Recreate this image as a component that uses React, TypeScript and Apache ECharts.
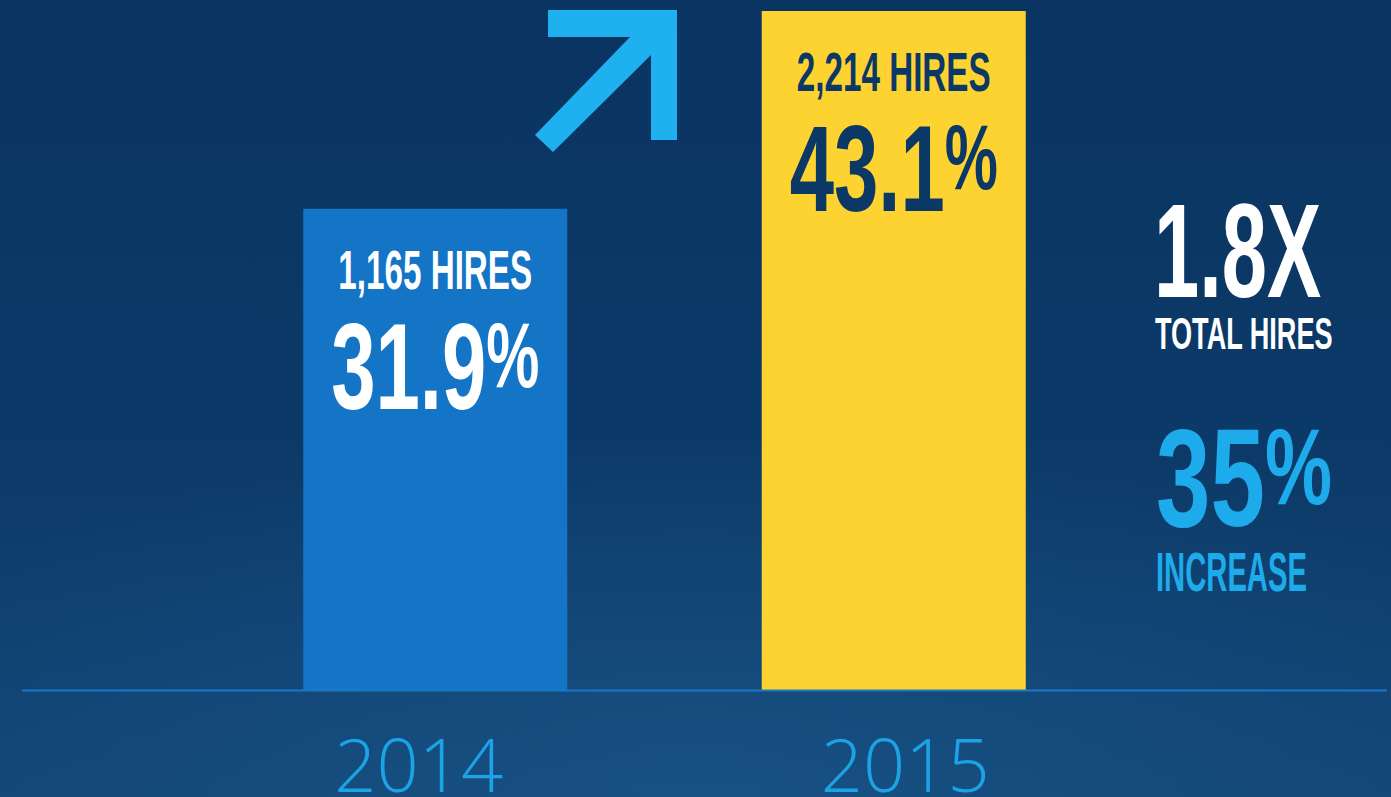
import React, { useEffect, useRef } from 'react';
import * as echarts from 'echarts';

// ---------- data ----------
const years = ['2014', '2015'];
const sharePct = [31.9, 43.1];
const hires = [1165, 2214];
const totalHiresMultiple = 1.8;
const shareIncreasePct = 35;

// ---------- styles ----------
const BAR_COLORS = ['#1474c6', '#fdd331'];
const LABEL_COLORS = ['#ffffff', '#0c3866'];
const ACCENT = '#1eabec';
const YEAR_COLOR = '#1ba3e6';
const BASELINE = '#1a78c8';
const CONDENSED = '"Liberation Sans Narrow", "Liberation Sans", Arial, sans-serif';
const CAP = 0.716;

let measureCtx: CanvasRenderingContext2D | null = null;
function textWidth(text: string, size: number) {
  if (!measureCtx) measureCtx = document.createElement('canvas').getContext('2d');
  measureCtx!.font = `bold ${size}px ${CONDENSED}`;
  return measureCtx!.measureText(text).width;
}

type CondOpts = {
  main: string;
  suffix?: string;
  capH: number;
  suffixRatio?: number;
  width: number;
  fill: string;
  anchor: 'left' | 'center';
  x: number;
  y: number;
};

function condensedGroup(o: CondOpts): any {
  const fs = o.capH / CAP;
  const fsS = fs * (o.suffixRatio ?? 0.75);
  const wMain = textWidth(o.main, fs);
  const wSuf = o.suffix ? textWidth(o.suffix, fsS) : 0;
  const W = wMain + wSuf;
  const s = o.width / W;
  const x0 = o.anchor === 'left' ? 0 : -W / 2;
  const children: any[] = [
    {
      type: 'text',
      x: x0,
      y: 0,
      style: {
        text: o.main,
        fill: o.fill,
        fontSize: fs,
        fontFamily: CONDENSED,
        fontWeight: 'bold',
        align: 'left',
        verticalAlign: 'middle',
      },
    },
  ];
  if (o.suffix) {
    children.push({
      type: 'text',
      x: x0 + wMain,
      y: -(CAP / 2) * (fs - fsS),
      style: {
        text: o.suffix,
        fill: o.fill,
        fontSize: fsS,
        fontFamily: CONDENSED,
        fontWeight: 'bold',
        align: 'left',
        verticalAlign: 'middle',
      },
    });
  }
  return { type: 'group', x: o.x, y: o.y, scaleX: s, children };
}

export default function App() {
  const ref = useRef<HTMLDivElement>(null);

  useEffect(() => {
    document.body.style.margin = '0';
    if (!ref.current) return;
    const chart = echarts.init(ref.current, undefined, { renderer: 'svg' });

    const option: any = {
      animation: false,
      grid: { left: 206, right: 268, top: 11, bottom: 106, outerBoundsMode: 'none', containLabel: false },
      xAxis: {
        type: 'category',
        data: [
          { value: years[0], textStyle: { padding: [0, 33, 0, 0] } },
          { value: years[1], textStyle: { padding: [0, 0, 0, 23] } },
        ],
        axisLine: { show: false },
        axisTick: { show: false },
        axisLabel: {
          color: YEAR_COLOR,
          fontSize: 74,
          lineHeight: 60,
          fontFamily: '"Open Sans", Lato, sans-serif',
          fontWeight: 300,
          margin: 42,
        },
      },
      yAxis: { type: 'value', min: 4.6, max: 43.1, show: false },
      series: [
        {
          type: 'bar',
          barWidth: 264,
          data: sharePct.map((v, i) => ({ value: v, itemStyle: { color: BAR_COLORS[i] } })),
          silent: true,
          z: 2,
        },
        {
          type: 'custom',
          z: 5,
          silent: true,
          data: sharePct.map((v, i) => [i, v]),
          encode: { x: 0, y: 1 },
          renderItem: (params: any, api: any) => {
            const i = params.dataIndex;
            const [cx, top] = api.coord([api.value(0), api.value(1)]);
            const fill = LABEL_COLORS[i];
            return {
              type: 'group',
              children: [
                condensedGroup({
                  main: `${hires[i].toLocaleString('en-US')} HIRES`,
                  capH: 40,
                  width: 194,
                  fill,
                  anchor: 'center',
                  x: cx,
                  y: top + 61,
                }),
                condensedGroup({
                  main: sharePct[i].toFixed(1),
                  suffix: '%',
                  capH: 88,
                  suffixRatio: 0.75,
                  width: 208,
                  fill,
                  anchor: 'center',
                  x: cx,
                  y: top + 157,
                }),
              ],
            };
          },
        },
      ],
      graphic: [
        {
          type: 'line',
          z: 10,
          silent: true,
          shape: { x1: 22, y1: 690.5, x2: 1387, y2: 690.5 },
          style: { stroke: BASELINE, lineWidth: 2 },
        },
        {
          type: 'polygon',
          silent: true,
          shape: {
            points: [
              [548, 10],
              [677, 10],
              [677, 140],
              [651, 140],
              [651, 55],
              [553, 152],
              [535, 135],
              [630, 37],
              [548, 37],
            ],
          },
          style: { fill: '#1fb0f0' },
        },
        condensedGroup({
          main: `${totalHiresMultiple}X`,
          capH: 96,
          width: 167,
          fill: '#ffffff',
          anchor: 'left',
          x: 1154,
          y: 250,
        }),
        condensedGroup({
          main: 'TOTAL HIRES',
          capH: 32,
          width: 178,
          fill: '#ffffff',
          anchor: 'left',
          x: 1155,
          y: 334,
        }),
        condensedGroup({
          main: `${shareIncreasePct}`,
          suffix: '%',
          capH: 100,
          suffixRatio: 0.77,
          width: 176,
          fill: ACCENT,
          anchor: 'left',
          x: 1156,
          y: 478,
        }),
        condensedGroup({
          main: 'INCREASE',
          capH: 40,
          width: 151,
          fill: ACCENT,
          anchor: 'left',
          x: 1156,
          y: 572,
        }),
      ],
    };

    chart.setOption(option);
    return () => chart.dispose();
  }, []);

  return (
    <div
      ref={ref}
      style={{
        width: 1391,
        height: 797,
        background:
          'radial-gradient(ellipse 70% 45% at 50% 100%, rgba(28,90,145,0.55) 0%, rgba(28,90,145,0) 100%), linear-gradient(180deg, #0a3461 0%, #0c3a68 55%, #124574 100%)',
      }}
    />
  );
}
